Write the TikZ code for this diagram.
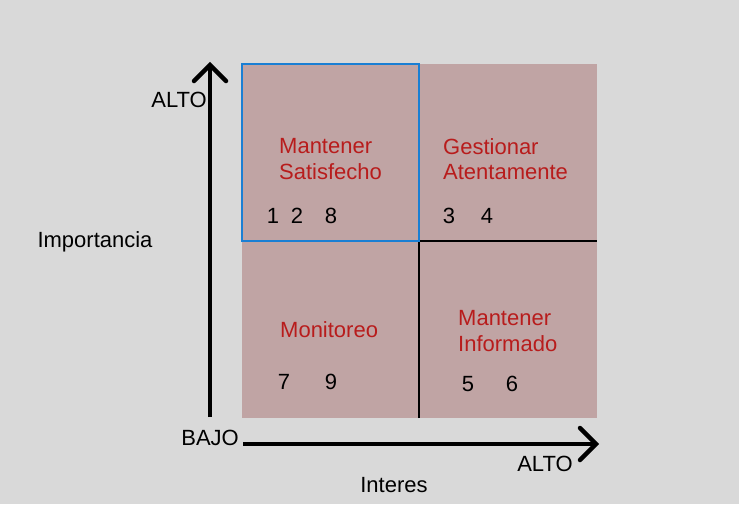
\documentclass[tikz,border=0pt]{standalone}
\usepackage{fontspec}
\setmainfont{Liberation Sans}
\begin{document}
\begin{tikzpicture}[x=1pt,y=-1pt,
  lbl/.style={font=\fontsize{22}{25}\selectfont, text=black, inner sep=0pt},
  quad/.style={font=\fontsize{22}{25.5}\selectfont, text=qred, inner sep=0pt, align=left, anchor=west},
  num/.style={font=\fontsize{22}{25}\selectfont, text=black, inner sep=0pt},
  axis/.style={line width=4.5pt, line cap=butt},
  chev/.style={line width=4.5pt, line cap=round, line join=miter}]
\definecolor{bg}{HTML}{D9D9D9}
\definecolor{qfill}{HTML}{C0A4A4}
\definecolor{qred}{HTML}{B81C1C}
\definecolor{qblue}{HTML}{1A7FD4}
\fill[bg] (0,0) rectangle (739,504);
\useasboundingbox (0,0) rectangle (739,504);
% quadrants
\fill[qfill] (242,64) rectangle (597,418);
\coordinate (mt) at (419,241);
\coordinate (mb) at (419,418);
\coordinate (mr) at (597,241);
\draw[line width=1.3pt] (mb) -- (mt) -- (mr);
\draw[qblue, line width=2.2pt] (242,64) rectangle (419,241);
% axes
\coordinate (vb) at (210,417);
\coordinate (vt) at (210,66);
\coordinate (hl) at (243,444);
\coordinate (hr) at (595,444);
\draw[axis] (vb) -- (vt);
\draw[chev] (194,81) -- (210,65) -- (226,81);
\draw[axis] (hl) -- (hr);
\draw[chev] (580,428) -- (596,444) -- (580,460);
% labels
\node[lbl, anchor=east] (altoy) at (207,100) {ALTO};
\node[lbl] (imp) at (95,242) {Importancia};
\node[lbl, anchor=east] (bajo) at (239,438) {BAJO};
\node[lbl] (altox) at (545,464) {ALTO};
\node[lbl] (int) at (394,485) {Interes};
% quadrant texts
\node[quad] (q1) at (279,159) {Mantener\\Satisfecho};
\node[quad] (q2) at (443,159) {Gestionar\\Atentamente};
\node[quad] (q3) at (280,330) {Monitoreo};
\node[quad] (q4) at (458,331) {Mantener\\Informado};
% numbers
\node[num] (n1) at (273,216) {1};
\node[num] (n2) at (297,216) {2};
\node[num] (n8) at (331,216) {8};
\node[num] (n3) at (449,216) {3};
\node[num] (n4) at (487,216) {4};
\node[num] (n7) at (284,382) {7};
\node[num] (n9) at (331,382) {9};
\node[num] (n5) at (468,384) {5};
\node[num] (n6) at (512,384) {6};
\end{tikzpicture}
\end{document}
